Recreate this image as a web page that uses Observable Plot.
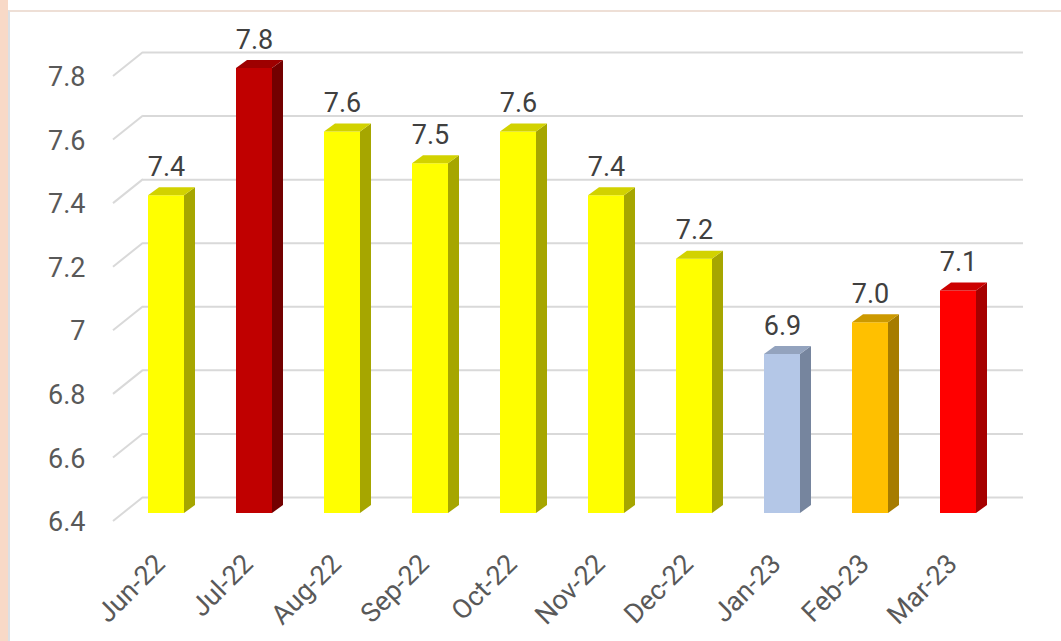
<!DOCTYPE html>
<html><head><meta charset="utf-8">
<script src="https://cdn.jsdelivr.net/npm/d3@7"></script>
<script src="https://cdn.jsdelivr.net/npm/@observablehq/plot@0.6"></script>
<style>
html,body{margin:0;padding:0;background:#fff;width:1061px;height:641px;overflow:hidden;}
#chart{position:absolute;left:0;top:0;}
.strip{position:absolute;left:0;top:0;width:8px;height:641px;background:#F8D9C7;}
.frame{position:absolute;left:8px;top:10px;width:1053px;height:631px;border-top:2px solid #EEDFD6;border-left:2px solid #DCE0E4;box-sizing:border-box;}
</style></head><body>
<div id="chart"></div><div class="strip"></div><div class="frame"></div>
<script>
// ---- data ----
const months = ["Jun-22","Jul-22","Aug-22","Sep-22","Oct-22","Nov-22","Dec-22","Jan-23","Feb-23","Mar-23"];
const values = [7.4, 7.8, 7.6, 7.5, 7.6, 7.4, 7.2, 6.9, 7.0, 7.1];
const yTicks = [6.4, 6.6, 6.8, 7, 7.2, 7.4, 7.6, 7.8];

// ---- styles ----
const frontColors = ["#FFFF00","#C00000","#FFFF00","#FFFF00","#FFFF00","#FFFF00","#FFFF00","#B4C7E7","#FFC000","#FF0000"];
const sideColors  = ["#A6A600","#730000","#A6A600","#A6A600","#A6A600","#A6A600","#A6A600","#76859E","#A67C00","#A60000"];
const topColors   = ["#D2D200","#9E0000","#D2D200","#D2D200","#D2D200","#D2D200","#D2D200","#93A3BE","#CC9900","#CC0000"];
const depthX = 11, depthY = -8, half = 18;
const font = "Roboto, 'Open Sans', sans-serif";
const fs = 27;

const data = months.map((m, i) => ({month: m, value: values[i], i}));

function stubs(index, scales, vals, dims) {
  const y = scales.y, ml = dims.marginLeft;
  const g = d3.create("svg:g");
  yTicks.forEach(t => {
    const yy = y(t);
    g.append("line").attr("x1", ml - 9).attr("y1", yy + 8).attr("x2", ml + 21).attr("y2", yy - 16)
      .attr("stroke", "#d9d9d9").attr("stroke-width", 2);
  });
  return g.node();
}

function bars3d(index, scales, vals, dims) {
  const x = scales.x, y = scales.y;
  const g = d3.create("svg:g");
  const y0 = y(yTicks[0]);
  data.forEach((d, i) => {
    const cx = x(d.month), yt = y(d.value);
    const l = cx - half, r = cx + half;
    g.append("polygon").attr("points", [[l,y0],[r,y0],[r,yt],[l,yt]].join(" ")).attr("fill", frontColors[i]);
    g.append("polygon").attr("points", [[r,y0],[r+depthX,y0+depthY],[r+depthX,yt+depthY],[r,yt]].join(" ")).attr("fill", sideColors[i]);
    g.append("polygon").attr("points", [[l,yt],[r,yt],[r+depthX,yt+depthY],[l+depthX,yt+depthY]].join(" ")).attr("fill", topColors[i]);
  });
  return g.node();
}

const chart = Plot.plot({
  width: 1061,
  height: 641,
  marginLeft: 122,
  marginRight: 59,
  marginTop: 68,
  marginBottom: 128,
  style: {fontFamily: font, fontSize: fs + "px", background: "transparent"},
  x: {type: "point", domain: months, padding: 0.5, axis: null},
  y: {type: "linear", domain: [6.4, 7.8], axis: null},
  marks: [
    Plot.ruleY(yTicks, {y: d => d, dx: 21, dy: -16, stroke: "#d9d9d9", strokeWidth: 2}),
    stubs,
    bars3d,
    Plot.text(yTicks, {y: d => d, frameAnchor: "left", textAnchor: "end", dx: -37, dy: 9, text: d => String(d), fill: "#595959", fontSize: fs}),
    Plot.text(data, {x: "month", y: "value", text: d => d.value.toFixed(1), dy: -20, lineAnchor: "bottom", fill: "#404040", fontSize: fs}),
    Plot.text(months, {x: d => d, frameAnchor: "bottom", text: d => d, rotate: -45, textAnchor: "end", lineAnchor: "middle", dx: -6, dy: 46, fill: "#595959", fontSize: fs})
  ]
});
document.getElementById("chart").appendChild(chart);
</script>
</body></html>
